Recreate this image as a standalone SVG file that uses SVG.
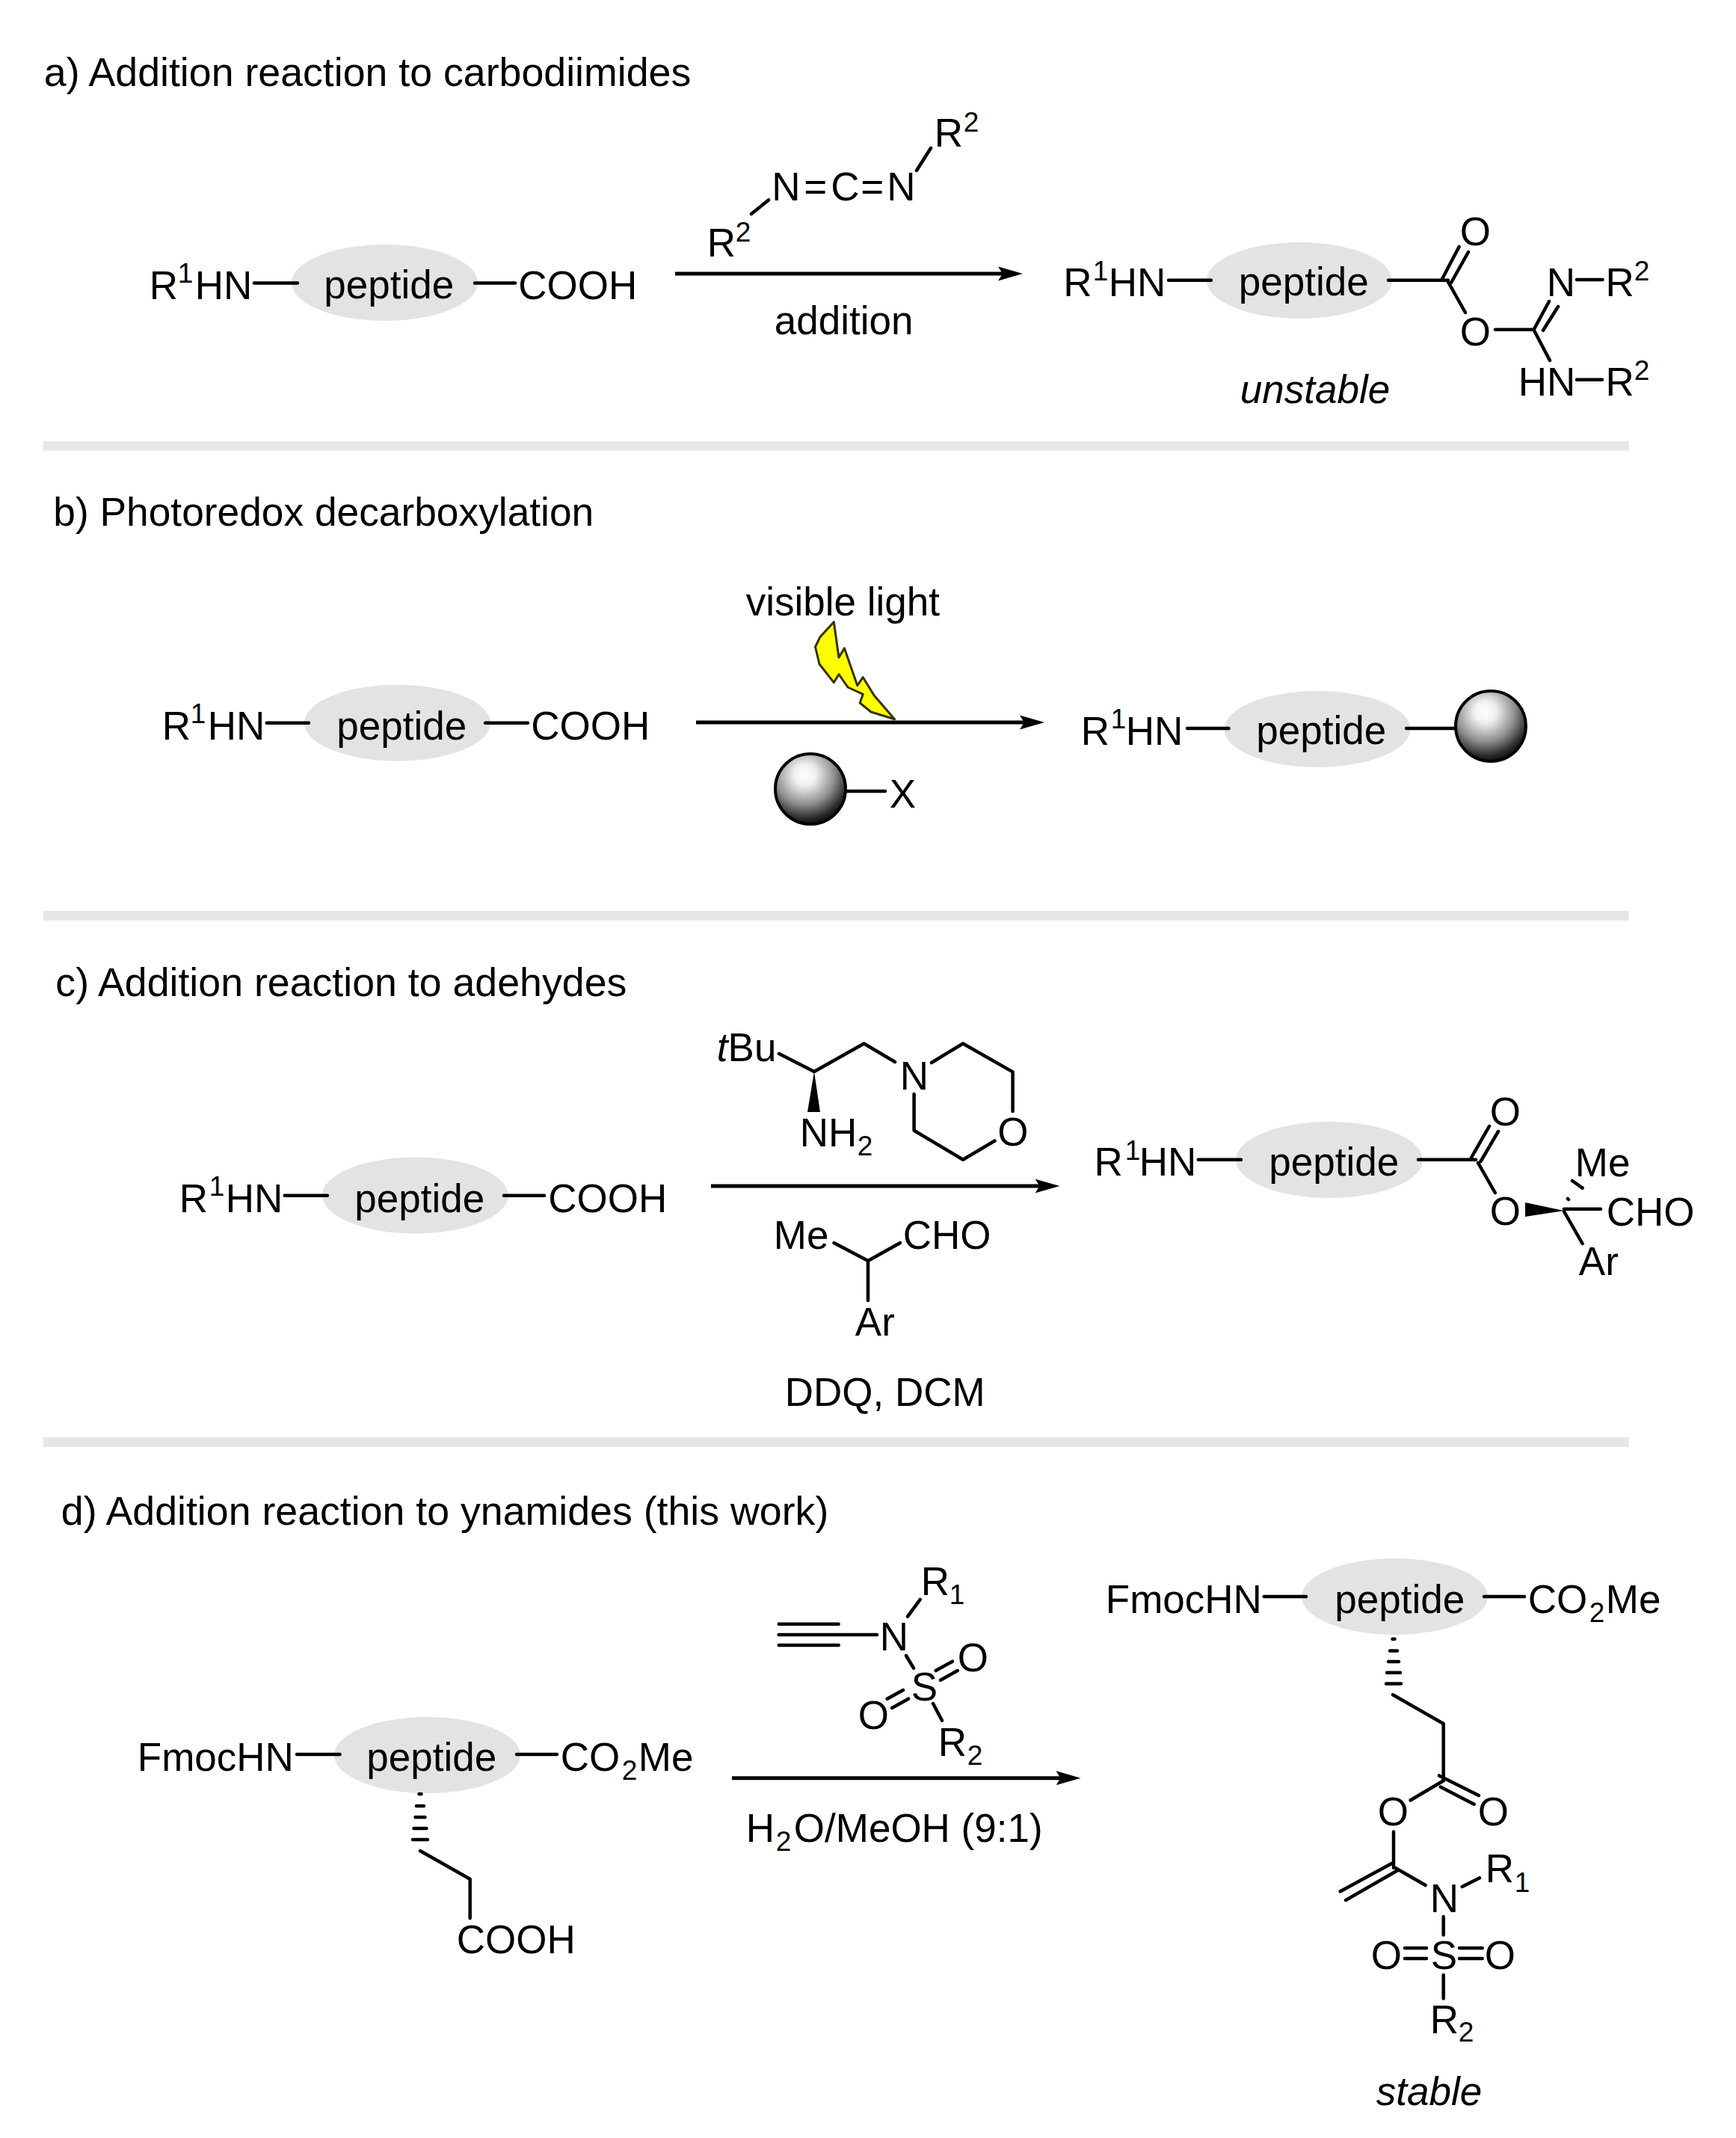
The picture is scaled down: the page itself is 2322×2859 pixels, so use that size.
<svg xmlns="http://www.w3.org/2000/svg" width="2322" height="2859" viewBox="0 0 2322 2859">
<style>
text{font-family:"Liberation Sans",Arial,sans-serif;font-size:53px;fill:#000;transform:translate(.8px,.8px)}
.t{font-size:53.7px}
.t2{font-size:53.3px}
.s{font-size:37px}
.i{font-style:italic}
.b{stroke:#000;stroke-width:4.5;fill:none;stroke-linecap:round;stroke-linejoin:round}
.a{stroke:#000;stroke-width:5;fill:none;marker-end:url(#ah)}
.pep{fill:#e3e3e3}
.bar{fill:#e6e6e6}
.sph{fill:url(#sg);stroke:#000;stroke-width:4}
</style>
<defs>
<marker id="ah" markerUnits="userSpaceOnUse" markerWidth="36" markerHeight="22" viewBox="0 0 36 22" refX="8" refY="11" orient="auto"><path d="M0 1.500 L33 11 L0 20.500 L6 11Z" fill="#000"/></marker>
<radialGradient id="sg" cx="0.42" cy="0.3" r="0.76"><stop offset="0" stop-color="#fff"/><stop offset="0.2" stop-color="#f0f0f0"/><stop offset="0.55" stop-color="#909090"/><stop offset="0.82" stop-color="#2a2a2a"/><stop offset="1" stop-color="#000"/></radialGradient>
</defs>
<rect width="2322" height="2859" fill="#fff"/>
<g id="section-bars">
<rect class="bar" x="58" y="590" width="2120.500" height="12.500"/>
<rect class="bar" x="58" y="1218" width="2120.500" height="13"/>
<rect class="bar" x="58" y="1922" width="2120.500" height="13"/>
</g>
<g id="titles">
<text class="t" x="58" y="114">a) Addition reaction to carbodiimides</text>
<text class="t2" x="70.500" y="702">b) Photoredox decarboxylation</text>
<text class="t" x="73.500" y="1331">c) Addition reaction to adehydes</text>
<text class="t" x="81" y="2038">d) Addition reaction to ynamides (this work)</text>
</g>
<g id="connectors">
<line class="a" x1="903" y1="366" x2="1343" y2="366"/>
<line class="a" x1="931" y1="966" x2="1372" y2="966"/>
<line class="a" x1="951" y1="1586" x2="1392.500" y2="1586"/>
<line class="a" x1="979" y1="2377.700" x2="1420.500" y2="2377.700"/>
</g>
<g id="a-reactant">
<ellipse class="pep" cx="514.500" cy="378" rx="124.500" ry="51"/>
<path class="b" d="M340 378.600H398M635 378.600H689"/>
<text x="199" y="399">R<tspan class="s" x="237" y="377">1</tspan><tspan x="260" y="399">HN</tspan></text>
<text x="432.500" y="398">peptide</text>
<text x="692.500" y="399">COOH</text>
</g>
<g id="a-carbodiimide">
<path class="b" d="M1028 267.500L1005 286M1226 228L1245 198"/>
<text x="945" y="342">R<tspan class="s" x="983" y="322">2</tspan></text>
<text y="267.500"><tspan x="1031.500">N</tspan><tspan x="1074.500">=</tspan><tspan x="1110.500">C</tspan><tspan x="1150.500">=</tspan><tspan x="1185.500">N</tspan></text>
<text x="1249" y="195">R<tspan class="s" x="1288" y="175">2</tspan></text>
<text x="1035" y="446">addition</text>
</g>
<g id="a-product">
<ellipse class="pep" cx="1738" cy="375" rx="124" ry="51"/>
<path class="b" d="M1563 374.700H1620M1857 374.700H1937M1929 373L1951.600 330M1941 378L1964 337M1937 377L1960 418M2000 440.700H2052M2052 440L2072 403M2064 441.700L2084 410M2052 442L2073 482M2109 374H2143.500M2109 507.700H2143"/>
<text x="1421.500" y="395">R<tspan class="s" x="1461" y="374">1</tspan><tspan x="1482" y="395">HN</tspan></text>
<text x="1656" y="394">peptide</text>
<text x="1952" y="327">O</text>
<text x="1952" y="461">O</text>
<text x="2068" y="395">N</text>
<text x="2146.600" y="395">R<tspan class="s" x="2185" y="374">2</tspan></text>
<text x="2030" y="528">HN</text>
<text x="2146.600" y="528">R<tspan class="s" x="2185" y="507">2</tspan></text>
<text class="i" x="1658" y="538">unstable</text>
</g>
<g id="b-reactant">
<ellipse class="pep" cx="531.500" cy="966.700" rx="124.500" ry="51"/>
<path class="b" d="M356.700 966.700H413M649 966.700H706"/>
<text x="216" y="988">R<tspan class="s" x="254" y="966">1</tspan><tspan x="277" y="988">HN</tspan></text>
<text x="449.500" y="988">peptide</text>
<text x="709.500" y="988">COOH</text>
</g>
<g id="b-light">
<text x="997" y="822">visible light</text>
<path d="M1115.300 831.700L1122 879.300L1129.400 866.700L1146.800 916.700L1154.300 905.700L1169.200 930L1196.600 961.700L1165 952L1150.200 940L1154.300 928.300L1134 919L1122 901.700L1115.300 912.700L1096 888L1090.500 865L1097 851.700Z" fill="#ff0" stroke="#333300" stroke-width="3" stroke-linejoin="round"/>
</g>
<g id="b-reagent">
<circle class="sph" cx="1084" cy="1055" r="47"/>
<path class="b" d="M1132 1058H1184"/>
<text x="1189" y="1079">X</text>
</g>
<g id="b-product">
<ellipse class="pep" cx="1762" cy="975" rx="124.500" ry="51"/>
<path class="b" d="M1588 974H1643.500M1881 974H1949"/>
<circle class="sph" cx="1994" cy="971" r="47"/>
<text x="1445" y="995">R<tspan class="s" x="1485" y="973">1</tspan><tspan x="1505" y="995">HN</tspan></text>
<text x="1679.500" y="994">peptide</text>
</g>
<g id="c-reactant">
<ellipse class="pep" cx="555.500" cy="1598.500" rx="124.500" ry="51"/>
<path class="b" d="M380.700 1598.700H438M674 1598.700H728"/>
<text x="239" y="1620">R<tspan class="s" x="279" y="1598">1</tspan><tspan x="301" y="1620">HN</tspan></text>
<text x="473.500" y="1620">peptide</text>
<text x="732.500" y="1620">COOH</text>
</g>
<g id="c-amine">
<path class="b" d="M1042 1409L1089 1433L1155.600 1395.500L1197 1420M1246 1421L1288 1395.500L1354.600 1433.400V1486M1330.500 1525.500L1288 1550.700L1222.600 1511.700V1463"/>
<polygon points="1089,1433 1080,1487 1097,1487" fill="#000"/>
<text x="958" y="1418"><tspan class="i">t</tspan>Bu</text>
<text x="1069" y="1532">NH<tspan class="s" x="1146" y="1544">2</tspan></text>
<text x="1203" y="1456">N</text>
<text x="1333.500" y="1531">O</text>
</g>
<g id="c-aldehyde">
<path class="b" d="M1115.500 1662L1161 1686L1204 1662M1161 1686V1739"/>
<text x="1034" y="1669">Me</text>
<text x="1207" y="1669">CHO</text>
<text x="1143" y="1785">Ar</text>
<text x="1049" y="1879">DDQ, DCM</text>
</g>
<g id="c-product">
<ellipse class="pep" cx="1778" cy="1551" rx="125" ry="51"/>
<path class="b" d="M1602.700 1550.700H1660M1897 1550.700H1974M1967.400 1549L1992 1506M1980.600 1553L2004 1513M1977 1555L1999.800 1595M2103 1579L2116.600 1588.700M2097 1603L2098 1604M2092 1616.700H2141M2092 1620L2116.600 1663"/>
<polygon points="2092,1619 2040,1608 2040,1627" fill="#000"/>
<text x="1462.600" y="1571">R<tspan class="s" x="1504" y="1550">1</tspan><tspan x="1523" y="1571">HN</tspan></text>
<text x="1696.500" y="1571">peptide</text>
<text x="1992" y="1504">O</text>
<text x="1992" y="1637">O</text>
<text x="2106" y="1572">Me</text>
<text x="2148" y="1638">CHO</text>
<text x="2111" y="1704">Ar</text>
</g>
<g id="d-reactant">
<ellipse class="pep" cx="571.500" cy="2347" rx="124.500" ry="51"/>
<path class="b" d="M397 2346H454.600M691 2346H745M560.500 2399H563.500M557 2415H567M555.500 2430H568.500M553.500 2445H570.500M552 2460H572M562 2475L628.700 2512.700V2565"/>
<text x="183" y="2367">FmocHN</text>
<text x="489.500" y="2367">peptide</text>
<text x="749" y="2367">CO<tspan class="s" x="831" y="2379">2</tspan><tspan x="853" y="2367">Me</tspan></text>
<text x="610" y="2611">COOH</text>
</g>
<g id="d-ynamide">
<path class="b" d="M1041.700 2171.700H1121.700M1041.700 2186H1173M1041.700 2200H1121.700M1214 2161.700L1230.700 2139M1212 2214L1222 2230.700M1251.700 2234L1274 2221.700M1258 2246.700L1280.700 2234M1186.700 2271.700L1208 2260M1193 2284L1215 2271.700M1248 2278L1260 2300.700"/>
<text x="1231" y="2132">R<tspan class="s" x="1269" y="2144">1</tspan></text>
<text x="1176" y="2206">N</text>
<text x="1218" y="2273">S</text>
<text x="1280" y="2234">O</text>
<text x="1147" y="2311">O</text>
<text x="1254" y="2347">R<tspan class="s" x="1293" y="2359">2</tspan></text>
<text x="997" y="2462">H<tspan class="s" x="1037" y="2474">2</tspan><tspan x="1061" y="2462">O/MeOH (9:1)</tspan></text>
</g>
<g id="d-product">
<ellipse class="pep" cx="1865.500" cy="2135" rx="124.500" ry="51"/>
<path class="b" d="M1690.700 2135H1747M1985 2135H2039M1862.500 2191.800H1865.500M1859 2207.400H1869M1857 2222H1871M1855 2236.800H1873M1854 2251.500H1874M1863 2266.300L1930.700 2305V2381.200M1925 2374.400L1978 2401M1926.700 2389.600L1971.700 2412.700M1930.700 2381.200L1886.700 2407.300M1864 2449.400V2497.800M1864 2490.600L1792.700 2529.300M1870 2500.700L1800 2541M1864 2496.500L1906.700 2521M1955.700 2523L1979 2511.200M1930.700 2563V2587.400M1879 2605H1908M1879 2619H1908M1952 2605H1982.700M1952 2619H1982.700M1930.700 2640.900V2672.400"/>
<text x="1478" y="2156">FmocHN</text>
<text x="1784.500" y="2156">peptide</text>
<text x="2043" y="2156">CO<tspan class="s" x="2125" y="2168">2</tspan><tspan x="2147" y="2156">Me</tspan></text>
<text x="1842" y="2440">O</text>
<text x="1976" y="2440">O</text>
<text x="1912" y="2555.800">N</text>
<text x="1986" y="2516.700">R<tspan class="s" x="2025" y="2529.300">1</tspan></text>
<text x="1913" y="2632.400">S</text>
<text x="1833" y="2632.400">O</text>
<text x="1985" y="2632.400">O</text>
<text x="1912" y="2718.700">R<tspan class="s" x="1950" y="2729.200">2</tspan></text>
<text class="i" x="1840" y="2814.300">stable</text>
</g>
</svg>
